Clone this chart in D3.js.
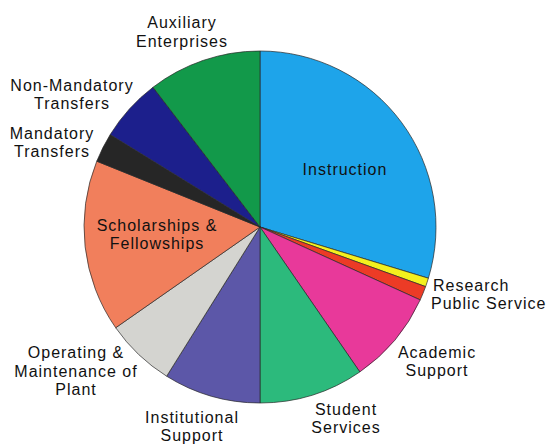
<!DOCTYPE html>
<html>
<head>
<meta charset="utf-8">
<script src="https://cdn.jsdelivr.net/npm/d3@7"></script>
<style>
  html, body { margin: 0; padding: 0; background: #fff; }
  svg { display: block; }
  text { font-family: "Liberation Sans", Arial, Helvetica, sans-serif; fill: #111; }
</style>
</head>
<body>
<svg id="chart" width="551" height="444"></svg>
<script>
// Data (percent of expenditures), clockwise from 12 o'clock
const categories = ["Instruction", "Research", "Public Service", "Academic Support",
  "Student Services", "Institutional Support", "Operating & Maintenance of Plant",
  "Scholarships & Fellowships", "Mandatory Transfers", "Non-Mandatory Transfers",
  "Auxiliary Enterprises"];
const values = [29.7, 0.8, 1.3, 8.6, 9.6, 8.9, 6.4, 15.8, 2.7, 5.8, 10.4];
const colors = ["#1ea4ea", "#f4f01e", "#ec3b26", "#e8399a", "#2cba7c", "#5c57a8",
  "#d4d4d0", "#f17f5c", "#262626", "#1c1f8c", "#12994a"];
const labelLines = [["Instruction"], ["Research"], ["Public Service"], ["Academic", "Support"],
  ["Student", "Services"], ["Institutional", "Support"], ["Operating &", "Maintenance of", "Plant"],
  ["Scholarships &", "Fellowships"], ["Mandatory", "Transfers"], ["Non-Mandatory", "Transfers"],
  ["Auxiliary", "Enterprises"]];

// Layout (label anchors: x, first baseline y, anchor)
const labelLayout = [
  [345, 175, "middle"], [433, 290.5, "start"], [431, 309, "start"], [437, 357.5, "middle"],
  [346, 414.5, "middle"], [192, 422.5, "middle"], [76, 358, "middle"],
  [157, 230.5, "middle"], [52, 138.5, "middle"], [72, 90.5, "middle"], [182, 28, "middle"]
];
const cx = 260, cy = 227, radius = 176, lineH = 18.5;

const svg = d3.select("#chart");
const data = categories.map((c, i) => ({ name: c, value: values[i], color: colors[i], lines: labelLines[i], pos: labelLayout[i] }));

const pie = d3.pie().sort(null).value(d => d.value).startAngle(0).endAngle(2 * Math.PI);
const arc = d3.arc().innerRadius(0).outerRadius(radius);

const g = svg.append("g").attr("transform", `translate(${cx},${cy})`);
g.selectAll("path")
  .data(pie(data))
  .join("path")
  .attr("d", arc)
  .attr("fill", d => d.data.color)
  .attr("stroke", "#2a2a2a")
  .attr("stroke-width", 0.7)
  .attr("stroke-linejoin", "round");

const labels = svg.append("g");
data.forEach(d => {
  const t = labels.append("text")
    .attr("x", d.pos[0])
    .attr("y", d.pos[1])
    .attr("text-anchor", d.pos[2])
    .style("font-size", "16px")
    .style("letter-spacing", "1px");
  d.lines.forEach((ln, j) => {
    t.append("tspan").attr("x", d.pos[0]).attr("y", d.pos[1] + j * lineH).text(ln);
  });
});
</script>
</body>
</html>
